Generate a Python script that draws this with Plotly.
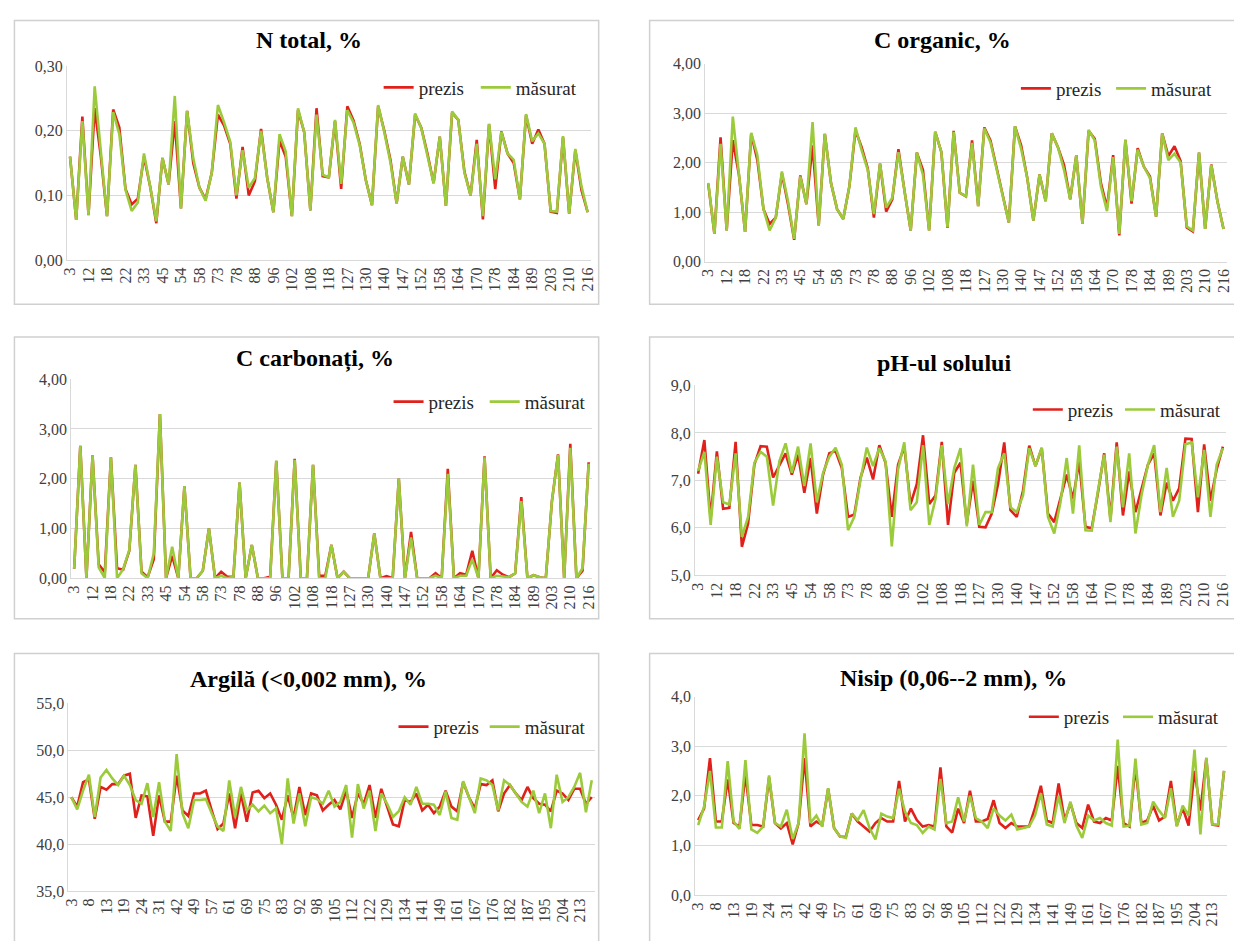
import plotly.graph_objects as go

# ---------------- data ----------------
top_labels = ["3", "12", "18", "22", "33", "45", "54", "58", "73", "78", "88", "96", "102", "108",
              "118", "127", "130", "140", "147", "152", "158", "164", "170", "178", "184", "189",
              "203", "210", "216"]
bottom_labels = ["3", "8", "13", "19", "24", "31", "42", "49", "57", "61", "69", "75", "83", "92",
                 "98", "105", "112", "122", "129", "134", "141", "149", "161", "167", "176", "182",
                 "187", "195", "204", "213"]

n_prezis = [0.160, 0.062, 0.222, 0.070, 0.235, 0.160, 0.068, 0.233, 0.205, 0.110,
            0.086, 0.095, 0.160, 0.114, 0.057, 0.158, 0.117, 0.215, 0.080, 0.231,
            0.150, 0.112, 0.094, 0.135, 0.225, 0.208, 0.180, 0.095, 0.175, 0.100,
            0.122, 0.203, 0.127, 0.074, 0.185, 0.160, 0.068, 0.232, 0.198, 0.077,
            0.235, 0.130, 0.128, 0.215, 0.110, 0.238, 0.216, 0.180, 0.124, 0.085,
            0.238, 0.200, 0.155, 0.088, 0.160, 0.117, 0.225, 0.205, 0.165, 0.119,
            0.191, 0.084, 0.228, 0.217, 0.137, 0.100, 0.186, 0.063, 0.210, 0.110,
            0.199, 0.165, 0.150, 0.094, 0.224, 0.180, 0.202, 0.180, 0.075, 0.073,
            0.190, 0.072, 0.170, 0.108, 0.074]
n_masurat = [0.160, 0.062, 0.215, 0.069, 0.269, 0.168, 0.068, 0.229, 0.195, 0.109,
             0.076, 0.089, 0.165, 0.114, 0.060, 0.158, 0.117, 0.254, 0.080, 0.231,
             0.157, 0.112, 0.092, 0.135, 0.240, 0.213, 0.183, 0.100, 0.170, 0.112,
             0.127, 0.200, 0.127, 0.074, 0.195, 0.168, 0.068, 0.235, 0.198, 0.077,
             0.225, 0.132, 0.128, 0.217, 0.118, 0.232, 0.213, 0.178, 0.124, 0.085,
             0.240, 0.198, 0.151, 0.088, 0.160, 0.117, 0.227, 0.204, 0.162, 0.119,
             0.191, 0.084, 0.230, 0.217, 0.135, 0.100, 0.180, 0.068, 0.211, 0.125,
             0.198, 0.165, 0.155, 0.094, 0.226, 0.184, 0.196, 0.180, 0.076, 0.075,
             0.192, 0.072, 0.172, 0.114, 0.074]

corg_prezis = [1.57, 0.56, 2.51, 0.63, 2.45, 1.75, 0.60, 2.58, 2.05, 1.06,
               0.76, 0.89, 1.78, 1.16, 0.44, 1.74, 1.16, 2.35, 0.73, 2.58,
               1.59, 1.06, 0.86, 1.52, 2.65, 2.31, 1.88, 0.89, 1.98, 1.01,
               1.26, 2.27, 1.42, 0.63, 2.20, 1.85, 0.63, 2.62, 2.21, 0.68,
               2.64, 1.39, 1.32, 2.45, 1.12, 2.71, 2.45, 1.88, 1.35, 0.79,
               2.73, 2.35, 1.69, 0.83, 1.76, 1.22, 2.59, 2.31, 1.95, 1.26,
               2.15, 0.76, 2.64, 2.48, 1.59, 1.09, 2.15, 0.53, 2.46, 1.17,
               2.29, 1.92, 1.72, 0.91, 2.59, 2.13, 2.33, 2.03, 0.69, 0.61,
               2.20, 0.66, 1.96, 1.22, 0.66]
corg_masurat = [1.59, 0.56, 2.38, 0.63, 2.93, 1.75, 0.60, 2.60, 2.15, 1.06,
                0.63, 0.89, 1.82, 1.22, 0.46, 1.72, 1.16, 2.82, 0.73, 2.58,
                1.59, 1.06, 0.86, 1.52, 2.71, 2.25, 1.85, 0.96, 1.98, 1.09,
                1.29, 2.21, 1.42, 0.63, 2.20, 1.75, 0.63, 2.62, 2.21, 0.69,
                2.62, 1.39, 1.32, 2.40, 1.12, 2.69, 2.41, 1.88, 1.35, 0.79,
                2.73, 2.28, 1.69, 0.83, 1.76, 1.22, 2.59, 2.31, 1.85, 1.26,
                2.15, 0.76, 2.66, 2.45, 1.52, 1.02, 2.11, 0.56, 2.46, 1.22,
                2.26, 1.92, 1.69, 0.91, 2.59, 2.05, 2.18, 2.00, 0.71, 0.63,
                2.20, 0.66, 1.95, 1.22, 0.66]

ccarb_prezis = [0.19, 2.66, 0.00, 2.47, 0.28, 0.12, 2.43, 0.20, 0.17, 0.55,
                2.28, 0.13, 0.02, 0.38, 3.30, 0.00, 0.45, 0.00, 1.85, 0.00,
                0.00, 0.15, 1.00, 0.00, 0.13, 0.03, 0.03, 1.92, 0.00, 0.67,
                0.00, 0.00, 0.03, 2.36, 0.00, 0.00, 2.40, 0.00, 0.00, 2.28,
                0.05, 0.05, 0.67, 0.00, 0.13, 0.00, 0.00, 0.00, 0.00, 0.90,
                0.00, 0.04, 0.00, 2.00, 0.00, 0.93, 0.00, 0.00, 0.00, 0.10,
                0.00, 2.20, 0.00, 0.10, 0.07, 0.55, 0.00, 2.45, 0.00, 0.16,
                0.07, 0.02, 0.10, 1.63, 0.00, 0.06, 0.02, 0.00, 1.55, 2.49,
                0.00, 2.70, 0.00, 0.15, 2.33]
ccarb_masurat = [0.19, 2.66, 0.00, 2.47, 0.22, 0.00, 2.43, 0.00, 0.18, 0.57,
                 2.28, 0.10, 0.00, 0.50, 3.30, 0.00, 0.63, 0.00, 1.85, 0.00,
                 0.00, 0.15, 1.00, 0.00, 0.05, 0.00, 0.03, 1.92, 0.00, 0.67,
                 0.00, 0.00, 0.00, 2.36, 0.00, 0.00, 2.38, 0.00, 0.00, 2.28,
                 0.00, 0.00, 0.67, 0.00, 0.13, 0.00, 0.00, 0.00, 0.00, 0.90,
                 0.00, 0.00, 0.00, 2.00, 0.00, 0.82, 0.00, 0.00, 0.00, 0.05,
                 0.00, 2.10, 0.00, 0.05, 0.05, 0.38, 0.00, 2.43, 0.00, 0.05,
                 0.03, 0.02, 0.10, 1.55, 0.00, 0.06, 0.02, 0.00, 1.55, 2.48,
                 0.00, 2.62, 0.00, 0.20, 2.30]

ph_prezis = [7.14, 7.85, 6.20, 7.61, 6.40, 6.42, 7.81, 5.60, 6.09, 7.33,
             7.72, 7.71, 7.06, 7.33, 7.57, 7.12, 7.54, 6.74, 7.47, 6.30,
             7.12, 7.57, 7.62, 7.26, 6.23, 6.28, 7.06, 7.48, 7.02, 7.74,
             7.37, 6.23, 7.33, 7.71, 6.50, 6.92, 7.95, 6.50, 6.68, 7.81,
             6.06, 7.16, 7.37, 6.09, 6.99, 6.02, 6.01, 6.30, 6.92, 7.80,
             6.37, 6.23, 6.78, 7.73, 7.30, 7.68, 6.30, 6.12, 6.61, 7.12,
             6.61, 7.40, 6.02, 5.99, 6.74, 7.57, 6.19, 7.80, 6.26, 7.19,
             6.33, 6.85, 7.33, 7.57, 6.26, 6.95, 6.57, 6.83, 7.88, 7.87,
             6.33, 7.76, 6.57, 7.23, 7.71]
ph_masurat = [7.20, 7.60, 6.06, 7.50, 6.54, 6.49, 7.57, 5.81, 6.23, 7.37,
              7.60, 7.50, 6.47, 7.40, 7.78, 7.16, 7.71, 6.88, 7.78, 6.54,
              7.16, 7.50, 7.69, 7.33, 5.95, 6.23, 7.02, 7.69, 7.30, 7.68,
              7.40, 5.61, 7.23, 7.80, 6.37, 6.54, 7.74, 6.06, 6.61, 7.74,
              6.50, 7.26, 7.68, 6.03, 7.33, 6.06, 6.33, 6.33, 7.26, 7.57,
              6.43, 6.33, 6.68, 7.68, 7.30, 7.69, 6.23, 5.88, 6.54, 7.47,
              6.30, 7.74, 5.95, 5.94, 6.78, 7.54, 6.12, 7.71, 6.43, 7.57,
              5.88, 6.71, 7.33, 7.74, 6.33, 7.26, 6.23, 6.57, 7.76, 7.80,
              6.64, 7.64, 6.23, 7.33, 7.68]

arg_prezis = [45.0, 44.0, 46.6, 46.9, 42.7, 46.1, 45.8, 46.4, 46.4, 47.3,
              47.5, 42.8, 45.2, 45.1, 40.9, 45.2, 42.4, 42.4, 47.3, 43.6,
              43.0, 45.4, 45.4, 45.7, 43.6, 41.6, 42.2, 45.4, 41.7, 45.4,
              42.4, 45.5, 45.7, 44.9, 45.4, 44.2, 42.6, 45.2, 42.8, 46.1,
              43.1, 45.4, 45.2, 43.6, 44.2, 44.7, 43.7, 45.7, 42.8, 45.4,
              44.3, 46.3, 42.8, 45.9, 44.0, 42.1, 41.9, 44.7, 44.5, 45.4,
              43.6, 44.2, 43.3, 44.0, 45.7, 44.0, 43.5, 46.6, 45.0, 43.8,
              46.4, 46.3, 46.8, 43.5, 45.4, 46.3, 45.4, 44.7, 46.1, 44.9,
              44.3, 44.2, 43.5, 45.7, 45.4, 44.7, 45.9, 45.9, 44.3, 45.0]
arg_masurat = [45.0, 43.7, 45.7, 47.4, 42.9, 47.1, 47.9, 47.0, 46.3, 47.3,
               46.3, 44.7, 44.3, 46.5, 42.9, 46.6, 42.4, 41.4, 49.6, 43.3,
               41.7, 44.7, 44.7, 44.8, 43.3, 41.9, 41.4, 46.8, 42.9, 46.1,
               43.6, 44.2, 43.5, 44.1, 43.3, 43.8, 40.0, 47.0, 42.2, 45.4,
               41.9, 45.0, 44.8, 44.3, 45.7, 44.0, 44.5, 46.3, 40.7, 46.4,
               43.8, 45.7, 41.4, 45.4, 44.3, 42.9, 43.5, 45.0, 44.2, 46.1,
               44.3, 44.3, 44.2, 43.1, 45.6, 42.8, 42.6, 46.7, 45.0, 43.3,
               47.0, 46.8, 46.3, 43.6, 46.8, 46.3, 45.4, 44.5, 44.0, 45.7,
               43.3, 45.4, 41.7, 47.4, 44.5, 45.0, 46.1, 47.6, 43.4, 46.8]

nis_prezis = [1.51, 1.74, 2.76, 1.48, 1.48, 2.33, 1.45, 1.38, 2.43, 1.41,
              1.41, 1.38, 2.37, 1.45, 1.34, 1.45, 1.02, 1.45, 2.76, 1.38,
              1.48, 1.41, 2.14, 1.35, 1.18, 1.17, 1.64, 1.48, 1.38, 1.28,
              1.45, 1.55, 1.48, 1.48, 2.30, 1.48, 1.74, 1.51, 1.38, 1.41,
              1.38, 2.57, 1.38, 1.26, 1.74, 1.45, 2.10, 1.48, 1.48, 1.53,
              1.91, 1.45, 1.35, 1.45, 1.38, 1.38, 1.38, 1.75, 2.20, 1.50,
              1.45, 2.25, 1.50, 1.85, 1.45, 1.35, 1.82, 1.48, 1.45, 1.55,
              1.50, 2.60, 1.45, 1.38, 2.60, 1.45, 1.50, 1.80, 1.50, 1.58,
              2.30, 1.40, 1.75, 1.40, 2.50, 1.70, 2.75, 1.42, 1.40, 2.50]
nis_masurat = [1.41, 1.78, 2.50, 1.36, 1.36, 2.70, 1.48, 1.33, 2.72, 1.32,
               1.25, 1.38, 2.41, 1.45, 1.38, 1.72, 1.13, 1.45, 3.26, 1.45,
               1.60, 1.38, 2.15, 1.35, 1.18, 1.15, 1.64, 1.51, 1.71, 1.35,
               1.12, 1.64, 1.58, 1.55, 2.14, 1.68, 1.45, 1.41, 1.25, 1.38,
               1.32, 2.34, 1.45, 1.48, 1.97, 1.48, 2.00, 1.55, 1.48, 1.35,
               1.74, 1.60, 1.50, 1.62, 1.32, 1.35, 1.38, 1.60, 2.05, 1.42,
               1.38, 2.00, 1.45, 1.88, 1.40, 1.15, 1.60, 1.50, 1.55, 1.45,
               1.40, 3.13, 1.38, 1.40, 2.75, 1.42, 1.45, 1.88, 1.70, 1.55,
               2.15, 1.38, 1.80, 1.60, 2.93, 1.22, 2.77, 1.42, 1.42, 2.50]

# ---------------- layout helpers ----------------
W, H = 1234, 941
SERIF = "Liberation Serif, Times New Roman, serif"
RED = "#E0201B"
GREEN = "#9BCB3B"
GRID = "#D9D9D9"
LEG_OFFSET = 8  # legend box left edge -> start of its line sample (px)


def px_x(v):
    return v / W


def px_y(v):
    return 1 - v / H


panels = [
    dict(title="<b>N total, %</b>", p=n_prezis, m=n_masurat, labels=top_labels,
         yr=[0, 0.30], dt=0.10, fmt=".2f", box=(61.5, 590, 59.3, 256.7),
         tpos=(306, 33), leg=(384, 482, 81)),
    dict(title="<b>C organic, %</b>", p=corg_prezis, m=corg_masurat, labels=top_labels,
         yr=[0, 4], dt=1, fmt=".2f", box=(705.5, 1231.6, 56.6, 258.3),
         tpos=(945, 33), leg=(1027, 1123, 82)),
    dict(title="<b>C carbonați, %</b>", p=ccarb_prezis, m=ccarb_masurat, labels=top_labels,
         yr=[0, 4], dt=1, fmt=".2f", box=(65.7, 591, 378, 580.7),
         tpos=(312, 357), leg=(394, 491, 401)),
    dict(title="<b>pH-ul solului</b>", p=ph_prezis, m=ph_masurat, labels=top_labels,
         yr=[5, 9], dt=1, fmt=".1f", box=(695.2, 1231, 384.4, 577.7),
         tpos=(946, 362), leg=(1039, 1132, 409)),
    dict(title="<b>Argilă (<0,002 mm), %</b>", p=arg_prezis, m=arg_masurat, labels=bottom_labels,
         yr=[35, 55], dt=5, fmt=".1f", box=(63, 594, 708.2, 899.3),
         tpos=(305, 683), leg=(399, 491, 732)),
    dict(title="<b>Nisip (0,06--2 mm), %</b>", p=nis_prezis, m=nis_masurat, labels=bottom_labels,
         yr=[0, 4], dt=1, fmt=".1f", box=(695.4, 1232, 701.2, 903.3),
         tpos=(956, 682), leg=(1035, 1130, 722)),
]

frames = [  # outer chart borders (l, r, t, b) in pixels
    (8.5, 598, 12.7, 301.7), (649.4, 1250, 12.7, 301.7),
    (8.5, 598, 335, 622), (649.4, 1250, 335, 622),
    (8.5, 598, 657.3, 960), (649.4, 1250, 657.3, 960),
]

fig = go.Figure()
layout = dict(
    width=W, height=H, autosize=False,
    margin=dict(l=0, r=0, t=0, b=0, pad=0),
    paper_bgcolor="white", plot_bgcolor="white",
    separators=", ", showlegend=True,
    shapes=[], annotations=[],
)


def legend_name(idx):
    return "legend" if idx == 1 else "legend%d" % idx


for k, pnl in enumerate(panels, start=1):
    sfx = "" if k == 1 else str(k)
    xa_name, ya_name = "xaxis" + sfx, "yaxis" + sfx
    xref, yref = "x" + sfx, "y" + sfx
    leg_p = legend_name(2 * k - 1)
    leg_m = legend_name(2 * k)
    n = len(pnl["m"])
    xs = list(range(n))
    l, r, t, b = pnl["box"]

    fig.add_trace(go.Scatter(x=xs, y=pnl["p"], mode="lines", name="prezis",
                             line=dict(color=RED, width=2.6), xaxis=xref, yaxis=yref,
                             legend=leg_p, showlegend=True, hoverinfo="skip"))
    fig.add_trace(go.Scatter(x=xs, y=pnl["m"], mode="lines", name="măsurat",
                             line=dict(color=GREEN, width=2.6), xaxis=xref, yaxis=yref,
                             legend=leg_m, showlegend=True, hoverinfo="skip"))

    tickvals = list(range(0, n, 3))[:len(pnl["labels"])]
    layout[xa_name] = dict(
        domain=[px_x(l), px_x(r)], anchor=yref, range=[-0.5, n - 0.5],
        tickmode="array", tickvals=tickvals, ticktext=pnl["labels"], tickangle=-90,
        showgrid=False, zeroline=False, showline=True, linecolor=GRID, linewidth=1,
        ticks="", tickfont=dict(family=SERIF, size=16, color="#404040"), fixedrange=True,
    )
    layout[ya_name] = dict(
        domain=[px_y(b), px_y(t)], anchor=xref, range=pnl["yr"], dtick=pnl["dt"],
        tick0=pnl["yr"][0], tickformat=pnl["fmt"], showgrid=True, gridcolor=GRID, gridwidth=1,
        zeroline=False, showline=True, linecolor=GRID, linewidth=1, ticks="",
        tickfont=dict(family=SERIF, size=16, color="#404040"), fixedrange=True,
    )
    red_x, green_x, ly = pnl["leg"]
    for lname, lx in ((leg_p, red_x), (leg_m, green_x)):
        layout[lname] = dict(
            x=px_x(lx - LEG_OFFSET), y=px_y(ly), xanchor="left", yanchor="middle",
            orientation="h", bgcolor="rgba(0,0,0,0)", borderwidth=0, visible=True,
            font=dict(family=SERIF, size=19, color="#262626"),
            itemclick=False, itemdoubleclick=False,
        )
    tx, ty = pnl["tpos"]
    layout["annotations"].append(dict(
        text=pnl["title"], x=px_x(tx), y=px_y(ty), xref="paper", yref="paper",
        xanchor="center", yanchor="middle", showarrow=False,
        font=dict(family=SERIF, size=24, color="black"),
    ))

for (l, r, t, b) in frames:
    layout["shapes"].append(dict(
        type="rect", xref="paper", yref="paper", x0=px_x(l), x1=px_x(r),
        y0=px_y(b), y1=px_y(t), line=dict(color="#D0D0D0", width=1.5),
        fillcolor="rgba(0,0,0,0)", layer="below",
    ))

fig.update_layout(**layout)
fig.write_html(
    "out.html",
    config={"displayModeBar": False},
    post_script="document.body.style.margin='0';document.body.style.overflow='hidden';",
)
